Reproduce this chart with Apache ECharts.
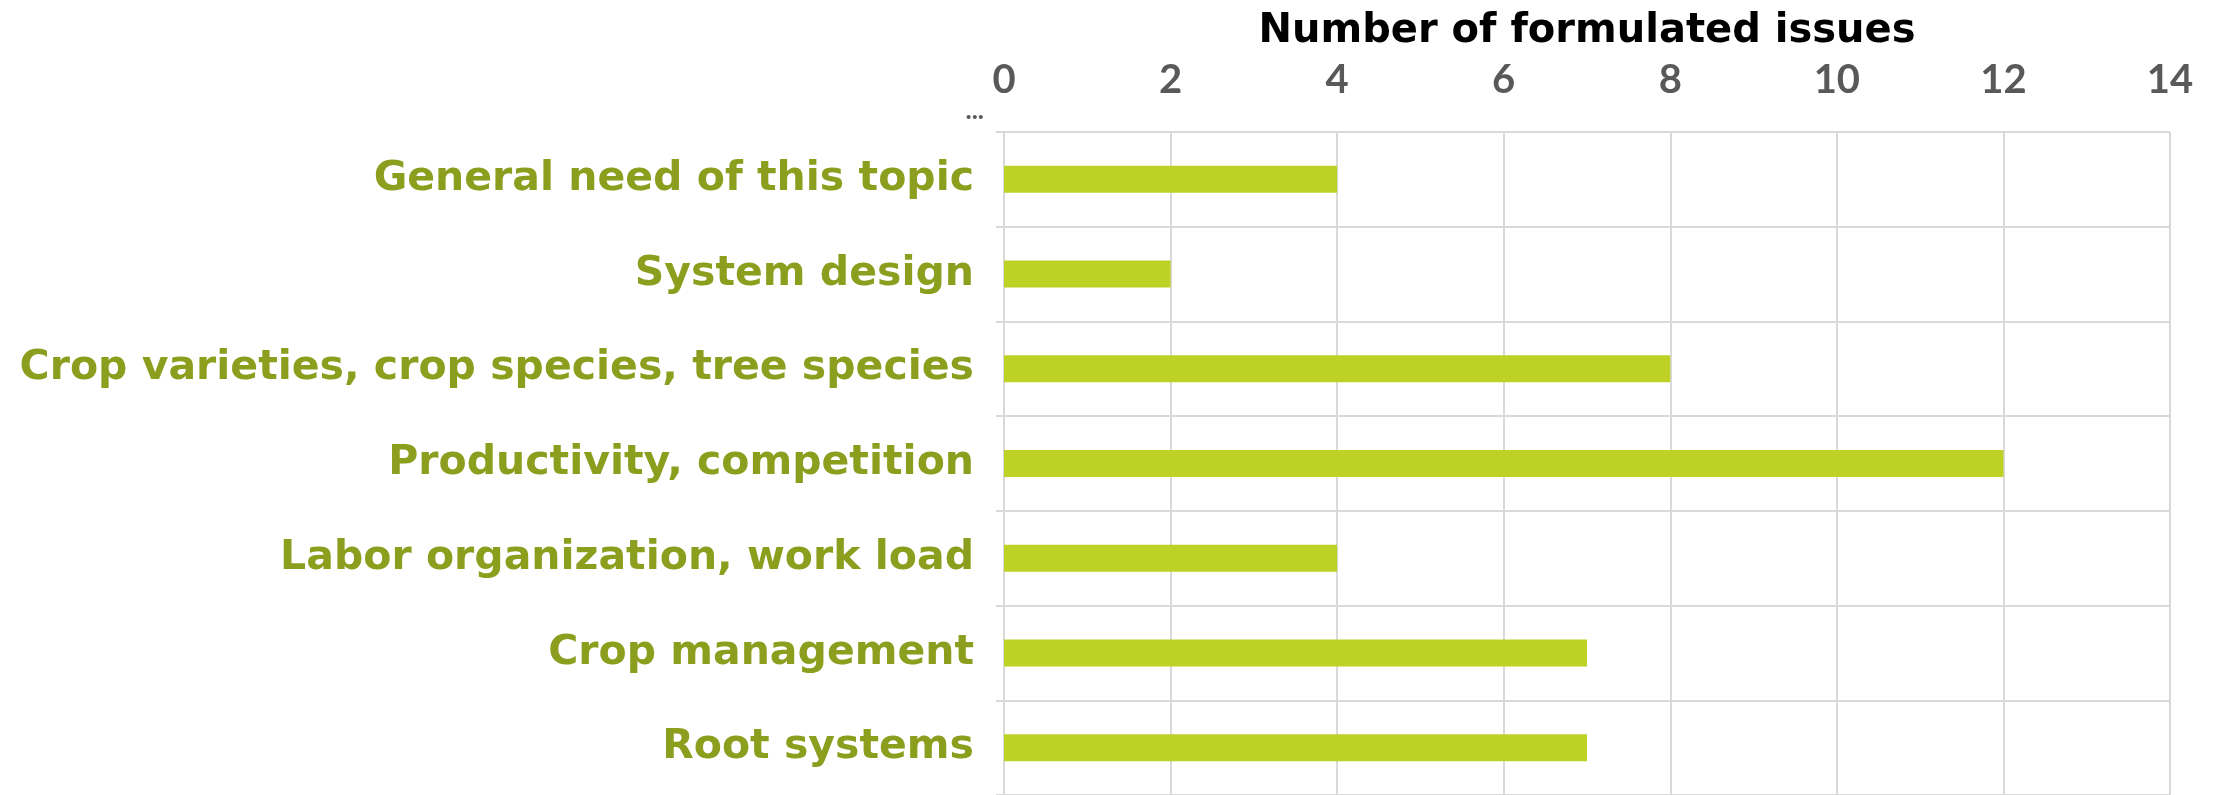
<!DOCTYPE html>
<html>
<head>
<meta charset="utf-8">
<script src="https://cdn.jsdelivr.net/npm/echarts@6/dist/echarts.min.js"></script>
<style>
  html, body { margin: 0; padding: 0; background: #fff; }
  #chart { width: 2218px; height: 795px; }
</style>
</head>
<body>
<div id="chart"></div>
<script>
// categories top to bottom
var topics = [
    'General need of this topic',
    'System design',
    'Crop varieties, crop species, tree species',
    'Productivity, competition',
    'Labor organization, work load',
    'Crop management',
    'Root systems'
];
var issueCounts = [4, 2, 8, 12, 4, 7, 7];

var chart = echarts.init(document.getElementById('chart'));

var option = {
    animation: false,
    grid: {
        left: 1004,
        right: 48,
        top: 132,
        bottom: 0
    },
    xAxis: {
        type: 'value',
        position: 'top',
        min: 0,
        max: 14,
        interval: 2,
        name: 'Number of formulated issues',
        nameLocation: 'middle',
        nameGap: 80,
        nameTextStyle: {
            color: '#000',
            fontFamily: 'DejaVu Sans',
            fontWeight: 'bold',
            fontSize: 40
        },
        axisLine: { show: false },
        axisTick: { show: false },
        axisLabel: {
            margin: 32,
            color: '#595959',
            fontFamily: 'Lato',
            fontWeight: 'bold',
            fontSize: 40
        },
        splitLine: {
            show: true,
            lineStyle: { color: '#d9d9d9', width: 2 }
        }
    },
    yAxis: {
        type: 'category',
        inverse: true,
        data: topics,
        name: '...',
        nameLocation: 'start',
        nameGap: 8,
        nameTextStyle: {
            color: '#595959',
            fontFamily: 'Lato',
            fontWeight: 'bold',
            fontSize: 26,
            align: 'right',
            padding: [0, 20, 0, 0]
        },
        axisLine: {
            show: true,
            lineStyle: { color: '#d9d9d9', width: 2 }
        },
        axisTick: {
            show: true,
            length: 8,
            lineStyle: { color: '#d9d9d9', width: 2 }
        },
        axisLabel: {
            margin: 30,
            color: '#8c9e1e',
            fontFamily: 'DejaVu Sans',
            fontWeight: 'bold',
            fontSize: 41,
            padding: [0, 0, 30, 0]
        },
        splitLine: {
            show: true,
            lineStyle: { color: '#d9d9d9', width: 2 }
        }
    },
    series: [{
        name: 'Number of formulated issues',
        type: 'bar',
        barWidth: 27,
        data: issueCounts,
        itemStyle: { color: '#bdd225' }
    }]
};

chart.setOption(option);
</script>
</body>
</html>
